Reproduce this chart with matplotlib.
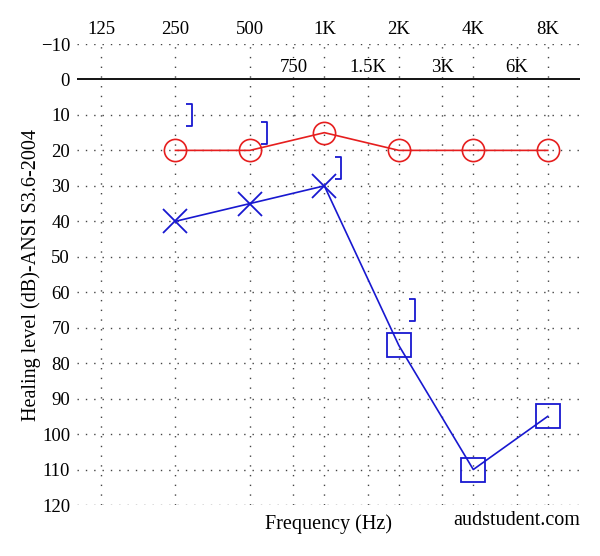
import numpy as np
import matplotlib
matplotlib.use("Agg")
import matplotlib.pyplot as plt
from matplotlib.path import Path
from matplotlib.transforms import offset_copy

# ======================
# Data
# ======================
freqs = [250, 500, 1000, 2000, 4000, 8000]
right_air = [20, 20, 15, 20, 20, 20]          # red circles
left_air = [40, 35, 30, 75, 110, 95]           # blue X / squares
left_masked = [False, False, False, True, True, True]
bc_freqs = [250, 500, 1000, 2000]              # blue brackets
bc_levels = [10, 15, 25, 65]

main_ticks = [125, 250, 500, 1000, 2000, 4000, 8000]
main_labels = ["125", "250", "500", "1K", "2K", "4K", "8K"]
mid_ticks = [750, 1500, 3000, 6000]
mid_labels = ["750", "1.5K", "3K", "6K"]
y_ticks = list(range(-10, 121, 10))

RED = "#e61e1e"
BLUE = "#1818d0"
FONT = "Liberation Serif"
LABEL_SIZE = 14.5

plt.rcParams["font.family"] = FONT
plt.rcParams["font.size"] = 13.5

fig = plt.figure(figsize=(6, 5.56), dpi=100)
ax = fig.add_axes([77 / 600, 1 - 505 / 556, (580 - 77) / 600, (505 - 44) / 556])

ax.set_xscale("log")
ax.set_xlim(100, 10800)
ax.set_ylim(120, -10)

# dotted grid
dot = (0, (1, 5))
for f in main_ticks + mid_ticks:
    ax.axvline(f, color="#444444", lw=1, ls=(0, (1, 6)), zorder=0)
for y in y_ticks:
    if y != 0:
        ax.axhline(y, color="#444444", lw=1, ls=dot, zorder=0)
ax.axhline(0, color="black", lw=1.3, zorder=1)

# right ear
ax.plot(freqs, right_air, color=RED, lw=1.2, zorder=2)
ax.plot(freqs, right_air, ls="none", marker="o", ms=16, mfc="none",
        mec=RED, mew=1.2, zorder=3)

# left ear
ax.plot(freqs, left_air, color=BLUE, lw=1.2, zorder=2)
fx = [f for f, m in zip(freqs, left_masked) if not m]
fy = [v for v, m in zip(left_air, left_masked) if not m]
sx = [f for f, m in zip(freqs, left_masked) if m]
sy = [v for v, m in zip(left_air, left_masked) if m]
ax.plot(fx, fy, ls="none", marker="x", ms=17, mec=BLUE, mew=1.3, zorder=3)
ax.plot(sx, sy, ls="none", marker="s", ms=17, mfc="none", mec=BLUE,
        mew=1.3, zorder=3)

# bone conduction brackets
bracket = Path([(-0.5, 1), (0, 1), (0, -1), (-0.5, -1)],
               [Path.MOVETO, Path.LINETO, Path.LINETO, Path.LINETO])
ax.plot(bc_freqs, bc_levels, ls="none", marker=bracket, ms=16.5,
        mfc="none", mec=BLUE, mew=1.3, zorder=3,
        transform=offset_copy(ax.transData, fig=fig, x=12, y=0, units="points"))

# ticks
ax.xaxis.tick_top()
ax.set_xticks(main_ticks)
ax.set_xticklabels(main_labels)
ax.xaxis.set_minor_locator(matplotlib.ticker.NullLocator())
ax.tick_params(axis="x", length=0, pad=4)
ax.set_yticks(y_ticks)
ax.set_yticklabels([str(y).replace("-", "\u2212") for y in y_ticks])
ax.tick_params(axis="y", length=0, pad=5)

for f, lab in zip(mid_ticks, mid_labels):
    ax.text(f, -3.4, lab, ha="center", va="center",
            bbox=dict(facecolor="white", edgecolor="none", pad=0.5))

for s in ax.spines.values():
    s.set_visible(False)

ax.set_ylabel("Healing level (dB)-ANSI S3.6-2004", fontsize=LABEL_SIZE, labelpad=0)
ax.text(0.5, -0.02, "Frequency (Hz)", transform=ax.transAxes,
        ha="center", va="top", fontsize=LABEL_SIZE)
ax.text(1.0, -0.012, "audstudent.com", transform=ax.transAxes,
        ha="right", va="top", fontsize=LABEL_SIZE)

fig.savefig("out.png", dpi=100)
